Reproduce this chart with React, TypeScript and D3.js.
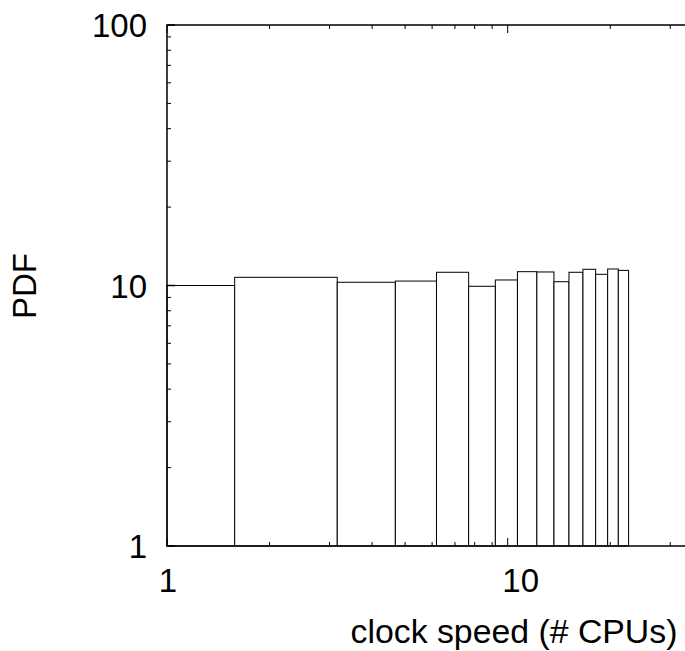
import React from "react";
import * as d3 from "d3";

// bin edges (# CPUs) and PDF height per bin
const binEdges = [1, 1.58, 3.16, 4.68, 6.18, 7.68, 9.2, 10.68, 12.18, 13.67, 15.13, 16.63, 18.12, 19.65, 21.12, 22.64];
const pdfValues = [10.0, 10.75, 10.29, 10.4, 11.24, 9.93, 10.5, 11.3, 11.27, 10.34, 11.24, 11.54, 11.04, 11.57, 11.43];
const xTickLabels = [1, 10];
const yTickLabels = [1, 10, 100];

const W = 685;
const H = 651;
const FONT = "'Liberation Sans', Arial, sans-serif";

export default function App() {
  const left = 167, top = 25, bottom = 546;
  const x = d3.scaleLog().domain([1, 10]).range([left, 507.7]);
  const y = d3.scaleLog().domain([1, 100]).range([bottom, top]);
  const xEnd = x(50);

  // log ticks 2..9 per decade
  const minor: number[] = [];
  for (let d = 1; d <= 10; d *= 10) for (let k = 2; k <= 9; k++) minor.push(k * d);

  const bars = pdfValues.map((v, i) => ({ x0: binEdges[i], x1: binEdges[i + 1], v }));

  return (
    <svg width={W} height={H} style={{ position: "absolute", left: 0, top: 0, background: "#fff" }}>
      {/* bars */}
      {bars.map((b, i) => (
        <rect key={i} x={x(b.x0)} y={y(b.v)} width={x(b.x1) - x(b.x0)} height={bottom - y(b.v)}
          fill="#fff" stroke="#000" strokeWidth={1} />
      ))}

      {/* frame */}
      <path d={`M${xEnd},${top}H${left}V${bottom}H${xEnd}`} fill="none" stroke="#000" strokeWidth={1.5} />

      {/* x ticks, bottom and top */}
      {minor.map((t) => (
        <g key={"xm" + t} stroke="#000" strokeWidth={1}>
          <line x1={x(t)} x2={x(t)} y1={bottom} y2={bottom - 4} />
          <line x1={x(t)} x2={x(t)} y1={top} y2={top + 4} />
        </g>
      ))}
      {xTickLabels.map((t) => (
        <g key={"xM" + t} stroke="#000" strokeWidth={1}>
          <line x1={x(t)} x2={x(t)} y1={bottom} y2={bottom - 8} />
          <line x1={x(t)} x2={x(t)} y1={top} y2={top + 8} />
        </g>
      ))}

      {/* y ticks */}
      {minor.map((t) => (
        <line key={"ym" + t} x1={left} x2={left + 4} y1={y(t)} y2={y(t)} stroke="#000" strokeWidth={1} />
      ))}
      {yTickLabels.map((t) => (
        <line key={"yM" + t} x1={left} x2={left + 8} y1={y(t)} y2={y(t)} stroke="#000" strokeWidth={1.5} />
      ))}

      {/* tick labels */}
      <g fontFamily={FONT} fontSize={33} fill="#000">
        {xTickLabels.map((t) => (
          <text key={"xl" + t} x={x(t) + (t >= 10 ? 13 : 1)} y={592} textAnchor="middle">{t}</text>
        ))}
        {yTickLabels.map((t) => (
          <text key={"yl" + t} x={147} y={y(t) + 12} textAnchor="end">{t}</text>
        ))}
        <text x={514} y={643} textAnchor="middle" fontSize={33.8}>clock speed (# CPUs)</text>
        <text transform={`translate(36,286) rotate(-90)`} textAnchor="middle">PDF</text>
      </g>
    </svg>
  );
}
